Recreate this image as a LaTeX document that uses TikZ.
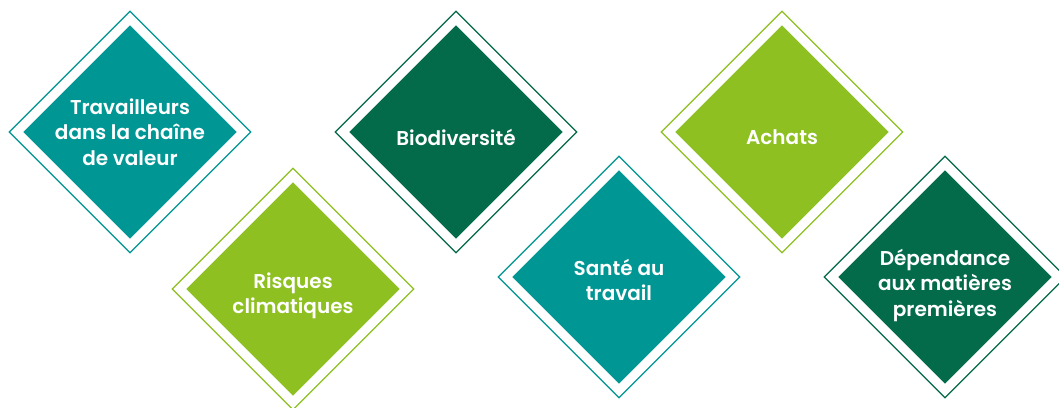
\documentclass[tikz,border=0pt]{standalone}
\usepackage{fontspec}
\setmainfont{Poppins}[BoldFont={* SemiBold}]
\usetikzlibrary{shapes.geometric}
\definecolor{tealtile}{RGB}{0,150,148}
\definecolor{darktile}{RGB}{3,106,74}
\definecolor{limetile}{RGB}{142,192,34}

\begin{document}
\begin{tikzpicture}[x=1pt, y=-1pt, node distance=326pt,
    tile/.style={diamond, aspect=1, minimum width=227pt, minimum height=227pt, inner sep=0pt,
        fill=#1, draw=#1, line width=1.5pt, double=white, double distance=9pt},
    caption/.style={text=white, align=center, yshift=#1, font=\bfseries\fontsize{20}{25.5}\selectfont}]
                        \useasboundingbox (0,0) rectangle (1059,407);

                        \node [tile=tealtile, label={[caption=0pt]center:Travailleurs\\dans la chaîne\\de valeur}](1) at (130,132){};
                        \node [tile=darktile, label={[caption=-5pt]center:Biodiversité}](3) [right of = 1]{};
                        \node [tile=limetile, label={[caption=-5pt]center:Achats}](5) [right of = 3]{};

                        \node [tile=limetile, label={[caption=-7pt]center:Risques\\climatiques}](2) at (293,289){};
                        \node [tile=tealtile, label={[caption=-3pt]center:Santé au\\travail}](4) at (619,277){};
                        \node [tile=darktile, label={[caption=-8pt]center:Dépendance\\aux matières\\premières}](6) [right of = 4]{};
                    \end{tikzpicture}
\end{document}
